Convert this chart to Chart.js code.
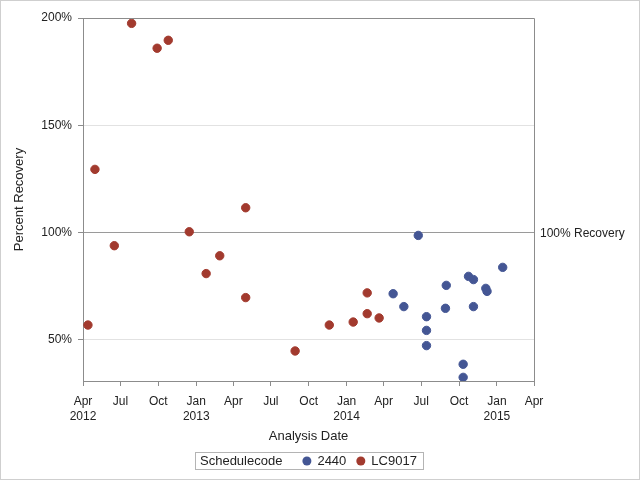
<!DOCTYPE html>
<html><head><meta charset="utf-8">
<script src="https://cdn.jsdelivr.net/npm/chart.js@4"></script>
<style>html,body{margin:0;padding:0;background:#fff}#wrap{position:relative;width:640px;height:480px}</style>
</head><body><div id="wrap"><canvas id="c" width="640" height="480"></canvas></div>
<script>
// ---- Data ----
const legendTitle = 'Schedulecode';
const seriesNames = ['2440', 'LC9017'];
const seriesColors = ['#445694', '#A23A2E'];

const dates2440 = ['2014-04-24','2014-05-20','2014-06-24','2014-07-14','2014-07-14','2014-07-14',
  '2014-08-29','2014-08-31','2014-10-11','2014-10-11','2014-10-24','2014-11-05','2014-11-05',
  '2014-12-05','2014-12-08','2015-01-15'];
const values2440 = [71.4, 65.4, 98.6, 60.7, 54.3, 47.2,
  64.6, 75.3, 38.5, 32.4, 79.5, 78.0, 65.4,
  73.9, 72.5, 83.7];

const datesLC9017 = ['2012-04-13','2012-04-30','2012-06-16','2012-07-28','2012-09-28','2012-10-25',
  '2012-12-15','2013-01-25','2013-02-27','2013-05-01','2013-05-01','2013-08-29','2013-11-20',
  '2014-01-17','2014-02-20','2014-02-20','2014-03-21'];
const valuesLC9017 = [56.8, 129.4, 93.8, 197.5, 185.9, 189.6,
  100.3, 80.8, 89.1, 111.5, 69.6, 44.7, 56.8,
  58.2, 71.8, 62.1, 60.1];

const xTickDates = ['2012-04-01','2012-07-01','2012-10-01','2013-01-01','2013-04-01','2013-07-01',
  '2013-10-01','2014-01-01','2014-04-01','2014-07-01','2014-10-01','2015-01-01','2015-04-01'];
const yTickValues = [50, 100, 150, 200];
const yMin = 30.7, yMax = 200;
const refValue = 100;
const refLabel = '100% Recovery';
const xTitle = 'Analysis Date';
const yTitle = 'Percent Recovery';
const monthNames = ['Jan','Feb','Mar','Apr','May','Jun','Jul','Aug','Sep','Oct','Nov','Dec'];

// ---- Helpers ----
const DAY = 86400000;
function toDay(s){ const p = s.split('-').map(Number); return Date.UTC(p[0], p[1]-1, p[2]) / DAY; }
function toPoints(ds, vs){ return ds.map((d,i)=>({x: toDay(d), y: vs[i]})); }
const xTicks = xTickDates.map(toDay);

const FONT = '"Liberation Sans", Arial, sans-serif';
const AXIS_COLOR = '#8c8c8c';

const framePlugin = {
  id: 'frame',
  afterDraw(chart){
    const ctx = chart.ctx, a = chart.chartArea;
    ctx.save();
    // top/right frame
    ctx.strokeStyle = AXIS_COLOR; ctx.lineWidth = 1;
    ctx.beginPath();
    ctx.moveTo(Math.round(a.left)+0.5, Math.round(a.top)+0.5);
    ctx.lineTo(Math.round(a.right)+0.5, Math.round(a.top)+0.5);
    ctx.lineTo(Math.round(a.right)+0.5, Math.round(a.bottom)+0.5);
    ctx.stroke();
    // reference label
    const y = chart.scales.y.getPixelForValue(refValue);
    ctx.fillStyle = '#222';
    ctx.font = '12px ' + FONT;
    ctx.textAlign = 'left'; ctx.textBaseline = 'middle';
    ctx.fillText(refLabel, a.right + 6, y + 1);
    // legend
    ctx.font = '13px ' + FONT;
    const r = 4.5, padX = 5, gapTitle = 20, gapMark = 6, gapItem = 10;
    let w = padX + ctx.measureText(legendTitle).width;
    seriesNames.forEach((n, i) => { w += (i === 0 ? gapTitle : gapItem) + 2*r + gapMark + ctx.measureText(n).width; });
    w += padX + 1;
    const cx = (a.left + a.right) / 2;
    let x = Math.round(cx - w/2);
    const top = 452, h = 17, my = top + h/2 + 0.5;
    ctx.strokeStyle = '#b4b4b4';
    ctx.strokeRect(x + 0.5, top + 0.5, Math.round(w), h);
    ctx.fillStyle = '#222';
    ctx.fillText(legendTitle, x + padX, my);
    x += padX + ctx.measureText(legendTitle).width;
    seriesNames.forEach((n, i) => {
      x += (i === 0 ? gapTitle : gapItem);
      ctx.fillStyle = seriesColors[i];
      ctx.beginPath(); ctx.arc(x + r, my, r, 0, Math.PI*2); ctx.fill();
      x += 2*r + gapMark;
      ctx.fillStyle = '#222';
      ctx.fillText(n, x, my);
      x += ctx.measureText(n).width;
    });
    // outer border
    ctx.strokeStyle = '#cfcfcf';
    ctx.strokeRect(0.5, 0.5, 639, 479);
    ctx.restore();
  }
};

new Chart(document.getElementById('c'), {
  type: 'scatter',
  data: {
    datasets: [
      { label: seriesNames[0], data: toPoints(dates2440, values2440), backgroundColor: seriesColors[0], borderColor: seriesColors[0] },
      { label: seriesNames[1], data: toPoints(datesLC9017, valuesLC9017), backgroundColor: seriesColors[1], borderColor: seriesColors[1] }
    ]
  },
  options: {
    responsive: false,
    animation: false,
    devicePixelRatio: 1,
    events: [],
    layout: { padding: { left: 0, top: 18, right: 106, bottom: 36 } },
    elements: { point: { radius: 4.2, borderWidth: 1, hoverRadius: 4.2 } },
    plugins: { legend: { display: false }, tooltip: { enabled: false } },
    scales: {
      x: {
        type: 'linear',
        min: xTicks[0], max: xTicks[xTicks.length-1],
        afterBuildTicks(s){ s.ticks = xTicks.map(v => ({ value: v })); },
        afterFit(s){ s.height = 63; },
        grid: { drawOnChartArea: false, drawTicks: true, tickLength: 5, color: AXIS_COLOR, tickColor: AXIS_COLOR },
        border: { color: AXIS_COLOR, width: 1 },
        ticks: {
          color: '#222', padding: 8, maxRotation: 0, autoSkip: false,
          font: { family: FONT, size: 12, lineHeight: 1.25 },
          callback(v, i){
            const d = new Date(v * DAY);
            const m = monthNames[d.getUTCMonth()];
            if (i === 0 || d.getUTCMonth() === 0) return [m, String(d.getUTCFullYear())];
            return m;
          }
        },
        title: { display: true, text: xTitle, color: '#222', padding: 0, font: { family: FONT, size: 13 } }
      },
      y: {
        min: yMin, max: yMax,
        afterBuildTicks(s){ s.ticks = yTickValues.map(v => ({ value: v })); },
        afterFit(s){ s.width = 83; },
        grid: {
          drawTicks: true, tickLength: 5, tickColor: AXIS_COLOR,
          color(c){ const v = c.tick && c.tick.value; return v === refValue ? '#9a9a9a' : (v === yMax ? 'rgba(0,0,0,0)' : '#e2e2e2'); }
        },
        border: { color: AXIS_COLOR, width: 1 },
        ticks: { color: '#222', padding: 6, font: { family: FONT, size: 12 }, callback: v => v + '%' },
        title: { display: true, text: yTitle, color: '#222', padding: { top: 12, bottom: 0 }, font: { family: FONT, size: 13 } }
      }
    }
  },
  plugins: [framePlugin]
});
</script></body></html>
